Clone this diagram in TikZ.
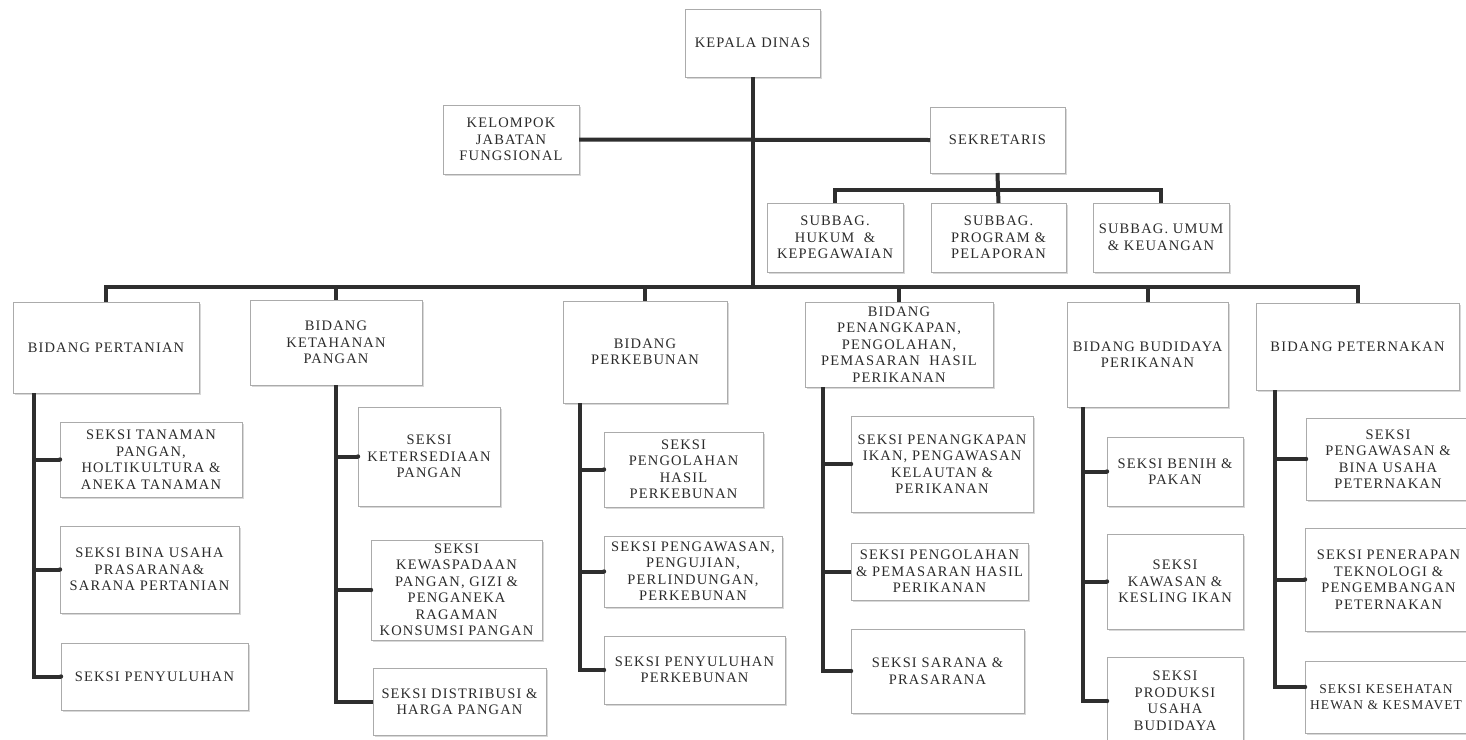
\documentclass[tikz,border=0pt]{standalone}
\usepackage{fontspec}
\setmainfont{Liberation Serif}[LetterSpace=8]
\usetikzlibrary{shadows}
\definecolor{ln}{HTML}{2E2E2E}
\definecolor{bx}{HTML}{ABABAB}
\definecolor{tx}{HTML}{2B2B2B}
\begin{document}
\begin{tikzpicture}[x=1pt,y=-1pt,
  box/.style={draw=bx, line width=1pt, fill=white, inner sep=0pt, outer sep=0pt,
    align=center, text=tx, font=\fontsize{14.5}{16.5}\selectfont,
    drop shadow={shadow xshift=1.5pt, shadow yshift=-1.5pt, fill=black!30}},
  sz/.style 2 args={minimum width=#1pt, minimum height=#2pt},
  conn/.style={draw=ln, line width=4pt},
  dot/.style={fill=ln}
]
\useasboundingbox[fill=white] (0,0) rectangle (1466,739);

% top level
\node[box, sz={135}{68}] (kepala) at (752.5,43) {KEPALA DINAS};
\node[box, sz={136}{69}] (kelompok) at (511,139.5) {KELOMPOK\\JABATAN\\FUNGSIONAL};
\node[box, sz={135}{66}] (sekretaris) at (997.5,140) {SEKRETARIS};
\node[box, sz={136}{69}] (hukum) at (835,237.5) {SUBBAG.\\HUKUM \ \&\\KEPEGAWAIAN};
\node[box, sz={135}{69}] (program) at (998.5,237.5) {SUBBAG.\\PROGRAM \&\\PELAPORAN};
\node[box, sz={136}{69}] (umum) at (1161,237.5) {SUBBAG. UMUM\\\& KEUANGAN};

% bidang
\node[box, sz={186}{91}] (pertanian) at (106,347.5) {BIDANG PERTANIAN};
\node[box, sz={172}{85}] (ketahanan) at (336,342.5) {BIDANG\\KETAHANAN\\PANGAN};
\node[box, sz={164}{102}] (perkebunan) at (645,352) {BIDANG\\PERKEBUNAN};
\node[box, sz={188}{85}] (penangkapan) at (899,344.5) {BIDANG\\PENANGKAPAN,\\PENGOLAHAN,\\PEMASARAN \ HASIL\\PERIKANAN};
\node[box, sz={161}{105}] (budidaya) at (1147.5,354.5) {BIDANG BUDIDAYA\\PERIKANAN};
\node[box, sz={203}{87}] (peternakan) at (1357.5,346.5) {BIDANG PETERNAKAN};

% seksi - pertanian
\node[box, sz={182}{75}] (s11) at (151,459.5) {SEKSI TANAMAN\\PANGAN,\\HOLTIKULTURA \&\\ANEKA TANAMAN};
\node[box, sz={179}{87}] (s12) at (149.5,569.5) {SEKSI BINA USAHA\\PRASARANA\&\\SARANA PERTANIAN};
\node[box, sz={187}{67}] (s13) at (154.5,676.5) {SEKSI PENYULUHAN};
% seksi - ketahanan
\node[box, sz={142}{99}] (s21) at (429,456.5) {SEKSI\\KETERSEDIAAN\\PANGAN};
\node[box, sz={171}{100}] (s22) at (456.5,590) {SEKSI\\KEWASPADAAN\\PANGAN, GIZI \&\\PENGANEKA\\RAGAMAN\\KONSUMSI PANGAN};
\node[box, sz={173}{67}] (s23) at (459.5,701.5) {SEKSI DISTRIBUSI \&\\HARGA PANGAN};
% seksi - perkebunan
\node[box, sz={159}{75}] (s31) at (683.5,469.5) {SEKSI\\PENGOLAHAN\\HASIL\\PERKEBUNAN};
\node[box, sz={178}{71}] (s32) at (693,571.5) {SEKSI PENGAWASAN,\\PENGUJIAN,\\PERLINDUNGAN,\\PERKEBUNAN};
\node[box, sz={181}{68}] (s33) at (694.5,670) {SEKSI PENYULUHAN\\PERKEBUNAN};
% seksi - penangkapan
\node[box, sz={182}{96}] (s41) at (942,464) {SEKSI PENANGKAPAN\\IKAN, PENGAWASAN\\KELAUTAN \&\\PERIKANAN};
\node[box, sz={177}{57}] (s42) at (939.5,571.5) {SEKSI PENGOLAHAN\\\& PEMASARAN HASIL\\PERIKANAN};
\node[box, sz={173}{84}] (s43) at (937.5,671) {SEKSI SARANA \&\\PRASARANA};
% seksi - budidaya
\node[box, sz={136}{69}] (s51) at (1175,471.5) {SEKSI BENIH \&\\PAKAN};
\node[box, sz={136}{95}] (s52) at (1175,581.5) {SEKSI\\KAWASAN \&\\KESLING IKAN};
\node[box, sz={136}{88}] (s53) at (1175,701) {SEKSI\\PRODUKSI\\USAHA\\BUDIDAYA};
% seksi - peternakan
\node[box, sz={164}{82}] (s61) at (1388,459) {SEKSI\\PENGAWASAN \&\\BINA USAHA\\PETERNAKAN};
\node[box, sz={167}{103}] (s62) at (1388.5,579.5) {SEKSI PENERAPAN\\TEKNOLOGI \&\\PENGEMBANGAN\\PETERNAKAN};
\node[box, sz={162}{72}, font=\fontsize{13.5}{16.5}\selectfont] (s63) at (1386,697) {SEKSI KESEHATAN\\HEWAN \& KESMAVET};

% connectors - top
\coordinate (bus) at (752.5,287);
\coordinate (sbus) at (998,190);
\draw[conn] (kepala.south) -- (bus);
\draw[conn] (kelompok.east) -- (sekretaris.west);
\draw[conn] (sekretaris.south) -- (sbus);
\draw[conn] (hukum.north) |- (sbus) -| (umum.north);
\draw[conn] (sbus) -- (program.north);
\draw[conn] (pertanian.north) |- (bus) -| (peternakan.north);
\foreach \n in {ketahanan,perkebunan,penangkapan,budidaya}
  \draw[conn] (bus -| \n.north) -- (\n.north);

% column spines
\coordinate (cA) at (33.5,0);
\coordinate (cB) at (336,0);
\coordinate (cC) at (580,0);
\coordinate (cD) at (823,0);
\coordinate (cE) at (1083,0);
\coordinate (cF) at (1275,0);
\draw[conn] (pertanian.south -| cA) |- (s13.west);
\draw[conn] (ketahanan.south -| cB) |- (s23.west);
\draw[conn] (perkebunan.south -| cC) |- (s33.west);
\draw[conn] (penangkapan.south -| cD) |- (s43.west);
\draw[conn] (budidaya.south -| cE) |- (s53.west);
\draw[conn] (peternakan.south -| cF) |- ([yshift=10pt]s63.west);

% stubs
\draw[conn] (s11.west -| cA) -- (s11.west);
\draw[conn] (s12.west -| cA) -- (s12.west);
\draw[conn] (s21.west -| cB) -- (s21.west);
\draw[conn] (s22.west -| cB) -- (s22.west);
\draw[conn] (s31.west -| cC) -- (s31.west);
\draw[conn] (s32.west -| cC) -- (s32.west);
\draw[conn] (s41.west -| cD) -- (s41.west);
\draw[conn] (s42.west -| cD) -- (s42.west);
\draw[conn] (s51.west -| cE) -- (s51.west);
\draw[conn] (s52.west -| cE) -- (s52.west);
\draw[conn] (s61.west -| cF) -- (s61.west);
\draw[conn] (s62.west -| cF) -- (s62.west);
\foreach \s in {s11,s12,s13,s21,s22,s31,s32,s33,s41,s43,s51,s52,s53,s61,s62}
  \fill[dot] (\s.west) circle (2.2pt);
\fill[dot] ([yshift=10pt]s63.west) circle (2.2pt);
\end{tikzpicture}
\end{document}
